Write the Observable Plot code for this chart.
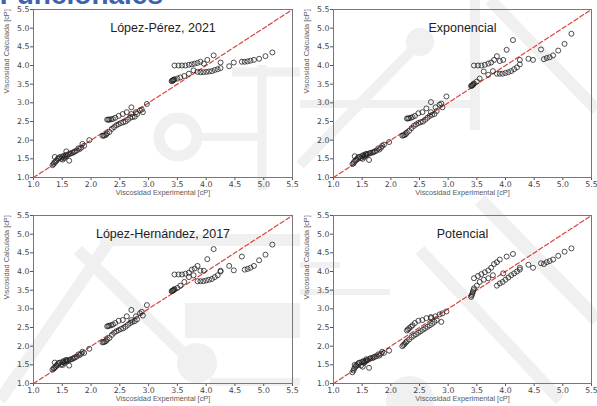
<!DOCTYPE html>
<html><head><meta charset="utf-8">
<script src="https://cdn.jsdelivr.net/npm/d3@7"></script>
<script src="https://cdn.jsdelivr.net/npm/@observablehq/plot@0.6"></script>
<style>
body{margin:0;background:#fff;}
#wrap{position:relative;width:597px;height:406px;overflow:hidden;background:#fff;}
.panel{position:absolute;}
#bg{position:absolute;left:0;top:0;}
</style></head><body><div id="wrap"></div>
<script>
// ---- data ----
const axisRange = [1.0, 5.5];
const tickValues = [1.0, 1.5, 2.0, 2.5, 3.0, 3.5, 4.0, 4.5, 5.0, 5.5];
const panelTitles = ["López-Pérez, 2021", "Exponencial", "López-Hernández, 2017", "Potencial"];
const xLabel = "Viscosidad Experimental [cP]";
const yLabel = "Viscosidad Calculada [cP]";
const pageTitle = "Funcionales";

const expLow = [1.33,1.35,1.36,1.37,1.38,1.40,1.42,1.44,1.46,1.48,1.50,1.51,1.52,1.53,1.55,1.56,1.57,1.58,1.60,1.62,1.63,1.65,1.68,1.70,1.72,1.75,1.78,1.80,1.83,1.85,1.88,1.97];
const expMid = [2.20,2.22,2.24,2.26,2.28,2.32,2.36,2.40,2.44,2.48,2.52,2.56,2.60,2.64,2.68,2.72,2.76,2.80,2.28,2.30,2.32,2.35,2.38,2.42,2.48,2.55,2.62,2.70,2.78,2.85,2.90,2.97,2.70,2.88];
const expHigh = [3.40,3.41,3.42,3.43,3.44,3.45,3.50,3.55,3.62,3.70,3.78,3.45,3.52,3.58,3.64,3.70,3.75,3.80,3.85,3.90,3.96,4.02,4.13,4.25,3.85,3.90,3.95,4.00,4.05,4.10,4.15,4.20,4.25,4.40,4.48,4.62,4.67,4.72,4.77,4.83,4.92,5.03,5.15];

const calcLopezPerez = [
 1.33,1.36,1.40,1.55,1.42,1.45,1.50,1.52,1.55,1.50,1.55,1.48,1.58,1.52,1.55,1.60,1.70,1.58,1.62,1.45,1.63,1.65,1.66,1.68,1.70,1.72,1.78,1.76,1.80,1.90,1.85,2.00,
 2.12,2.12,2.13,2.15,2.18,2.22,2.30,2.35,2.40,2.43,2.46,2.48,2.50,2.55,2.60,2.62,2.63,2.70,2.55,2.55,2.55,2.56,2.57,2.60,2.65,2.70,2.75,2.70,2.75,2.80,2.75,2.97,2.88,2.82,
 3.58,3.59,3.60,3.61,3.62,3.63,3.65,3.68,3.72,3.78,3.87,4.00,4.00,4.00,4.00,4.02,4.03,4.05,4.07,4.10,4.05,4.15,4.27,4.08,3.83,3.82,3.82,3.83,3.84,3.85,3.88,3.90,3.93,3.98,4.08,4.10,4.10,4.11,4.13,4.15,4.18,4.25,4.35];
const calcExponencial = [
 1.36,1.38,1.42,1.57,1.45,1.48,1.52,1.55,1.55,1.52,1.58,1.50,1.60,1.55,1.58,1.62,1.63,1.60,1.63,1.47,1.65,1.66,1.67,1.68,1.70,1.72,1.78,1.75,1.80,1.85,1.88,1.95,
 2.12,2.13,2.14,2.16,2.20,2.25,2.32,2.38,2.42,2.46,2.48,2.50,2.55,2.60,2.65,2.68,2.70,2.78,2.58,2.58,2.59,2.60,2.62,2.65,2.72,2.75,2.85,2.75,2.88,2.95,2.88,3.17,3.02,2.98,
 3.45,3.46,3.47,3.48,3.50,3.52,3.57,3.65,3.84,3.75,3.85,4.00,4.00,4.00,4.02,4.05,4.08,4.15,4.25,4.12,4.15,4.42,4.68,4.15,3.78,3.78,3.78,3.80,3.82,3.85,3.90,3.95,4.03,4.18,4.15,4.43,4.17,4.20,4.22,4.27,4.40,4.58,4.85];
const calcLopezHernandez = [
 1.37,1.40,1.42,1.56,1.44,1.48,1.52,1.55,1.56,1.50,1.57,1.50,1.60,1.55,1.58,1.62,1.63,1.60,1.62,1.48,1.63,1.65,1.66,1.68,1.70,1.72,1.78,1.76,1.80,1.85,1.82,1.93,
 2.10,2.11,2.12,2.14,2.18,2.22,2.30,2.36,2.40,2.43,2.46,2.48,2.52,2.57,2.62,2.65,2.67,2.72,2.53,2.54,2.55,2.56,2.58,2.62,2.68,2.70,2.80,2.70,2.80,2.88,2.82,3.10,2.97,2.92,
 3.47,3.48,3.49,3.50,3.51,3.53,3.56,3.62,3.72,3.85,3.90,3.92,3.92,3.92,3.94,3.97,4.05,4.08,4.15,4.02,4.02,4.33,4.60,4.00,3.74,3.74,3.74,3.76,3.78,3.80,3.85,3.90,4.02,4.15,4.03,4.40,4.05,4.07,4.10,4.15,4.30,4.45,4.72];
const calcPotencial = [
 1.30,1.35,1.40,1.50,1.45,1.48,1.52,1.55,1.56,1.48,1.58,1.45,1.60,1.55,1.58,1.60,1.65,1.62,1.63,1.42,1.66,1.68,1.68,1.70,1.72,1.73,1.78,1.75,1.80,1.85,1.82,1.88,
 2.00,2.03,2.06,2.10,2.13,2.18,2.24,2.28,2.32,2.36,2.40,2.44,2.48,2.52,2.56,2.60,2.65,2.70,2.42,2.45,2.48,2.52,2.56,2.62,2.68,2.70,2.75,2.78,2.80,2.85,2.88,2.93,2.75,2.65,
 3.32,3.36,3.40,3.45,3.50,3.55,3.62,3.72,3.78,3.82,3.90,3.82,3.88,3.93,3.98,4.03,4.10,4.20,4.25,4.32,3.95,4.40,4.47,4.10,3.62,3.68,3.72,3.78,3.84,3.90,3.95,4.00,4.05,4.18,4.10,4.22,4.20,4.25,4.28,4.32,4.42,4.53,4.62];

// ---- layout ----
const wrap = document.getElementById("wrap");

// faint watermark background
const bg = d3.select(wrap).append("svg").attr("id","bg").attr("width",597).attr("height",406);
const wm = "#f0f0f0";
const g = bg.append("g").attr("fill","none").attr("stroke",wm);
g.append("circle").attr("cx",178).attr("cy",137).attr("r",19).attr("stroke-width",11);
g.append("line").attr("x1",197).attr("y1",137).attr("x2",262).attr("y2",137).attr("stroke-width",8);
g.append("line").attr("x1",262).attr("y1",65).attr("x2",262).attr("y2",190).attr("stroke-width",9);
g.append("line").attr("x1",232).attr("y1",72).attr("x2",300).attr("y2",72).attr("stroke-width",9);
g.append("circle").attr("cx",420).attr("cy",42).attr("r",14).attr("fill",wm).attr("stroke-width",0);
g.append("line").attr("x1",420).attr("y1",42).attr("x2",300).attr("y2",165).attr("stroke-width",10);
g.append("line").attr("x1",475).attr("y1",0).attr("x2",475).attr("y2",130).attr("stroke-width",10);
g.append("line").attr("x1",300).attr("y1",104).attr("x2",475).attr("y2",104).attr("stroke-width",8);
g.append("line").attr("x1",490).attr("y1",0).attr("x2",597).attr("y2",110).attr("stroke-width",12);
g.append("line").attr("x1",100).attr("y1",240).attr("x2",300).attr("y2",240).attr("stroke-width",12);
g.append("line").attr("x1",0).attr("y1",400).attr("x2",110).attr("y2",240).attr("stroke-width",12);
g.append("line").attr("x1",78).attr("y1",250).attr("x2",190).attr("y2",360).attr("stroke-width",12);
g.append("rect").attr("x",185).attr("y",303).attr("width",115).attr("height",35).attr("fill",wm).attr("stroke-width",0);
g.append("circle").attr("cx",197).attr("cy",363).attr("r",20).attr("fill",wm).attr("stroke-width",0);
g.append("line").attr("x1",210).attr("y1",382).attr("x2",300).attr("y2",382).attr("stroke-width",8);
g.append("line").attr("x1",300).attr("y1",292).attr("x2",390).attr("y2",292).attr("stroke-width",6);
g.append("line").attr("x1",300).attr("y1",265).attr("x2",340).attr("y2",265).attr("stroke-width",6);
g.append("line").attr("x1",480).attr("y1",200).attr("x2",597).attr("y2",320).attr("stroke-width",14);
g.append("line").attr("x1",420).attr("y1",250).attr("x2",560).attr("y2",400).attr("stroke-width",12);
g.append("circle").attr("cx",410).attr("cy",400).attr("r",24).attr("fill",wm).attr("stroke-width",0);

// page title (cut off at top, as in the source slide)
bg.append("text").attr("x",163).attr("y",4).attr("text-anchor","end")
  .attr("font-family","Liberation Sans, Arial, sans-serif").attr("font-weight","bold")
  .attr("font-size",28).attr("fill","#3d63b0").text(pageTitle);

const expX = [...expLow, ...expMid, ...expHigh];
const diag = axisRange.map(v => ({x: v, y: v}));
const fmt = d3.format(".1f");

function panel(title, ys, left, top, width, mr) {
  const data = expX.map((x, i) => ({x, y: ys[i]}));
  const p = Plot.plot({
    width, height: 200,
    marginLeft: 33, marginRight: mr, marginTop: 9, marginBottom: 23,
    style: {background: "transparent", fontFamily: "DejaVu Sans, sans-serif", color: "#444"},
    x: {domain: axisRange},
    y: {domain: axisRange},
    marks: [
      Plot.axisX(tickValues, {tickSize: 3, tickPadding: 1, tickFormat: fmt, label: null, fontSize: 7.8, stroke: "#555"}),
      Plot.axisY(tickValues, {tickSize: 3, tickPadding: 1, tickFormat: fmt, label: null, fontSize: 7.8, stroke: "#555"}),
      Plot.line(diag, {x: "x", y: "y", stroke: "#d9443c", strokeDasharray: "4.5,2.5", strokeWidth: 1.2}),
      Plot.dot(data, {x: "x", y: "y", r: 2.5, stroke: "#222", strokeWidth: 0.8, fill: "none"}),
      Plot.frame({stroke: "#777", strokeWidth: 1}),
      Plot.text([title], {text: d => d, frameAnchor: "top", dy: 14, fontSize: 12.5, fill: "#222", fontFamily: "Liberation Sans, Arial, sans-serif"}),
      Plot.text([xLabel], {text: d => d, frameAnchor: "bottom", dy: 17, fontSize: 7.3, fill: "#5a5a5a", fontFamily: "Liberation Sans, Arial, sans-serif"}),
      Plot.text([yLabel], {text: d => d, frameAnchor: "left", dx: -27, rotate: -90, fontSize: 7.3, fill: "#5a5a5a", fontFamily: "Liberation Sans, Arial, sans-serif"})
    ]
  });
  p.classList.add("panel");
  p.style.left = left + "px";
  p.style.top = top + "px";
  wrap.appendChild(p);
}

panel(panelTitles[0], calcLopezPerez, 0, 0, 300, 8);
panel(panelTitles[1], calcExponencial, 300, 0, 297, 6);
panel(panelTitles[2], calcLopezHernandez, 0, 206, 300, 8);
panel(panelTitles[3], calcPotencial, 300, 206, 297, 6);
</script>
</body></html>
